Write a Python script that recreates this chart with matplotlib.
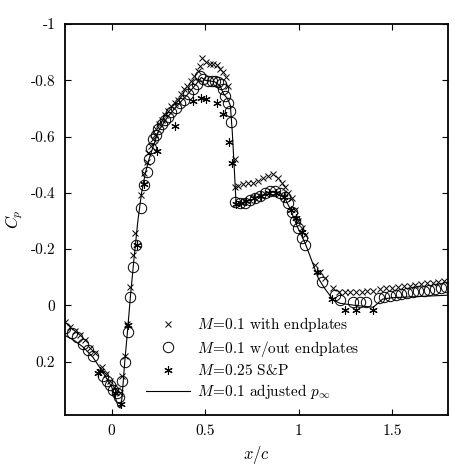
import matplotlib
matplotlib.use("Agg")
import matplotlib.pyplot as plt

plt.rcParams['font.family'] = 'serif'
plt.rcParams['font.serif'] = ['cmr10', 'DejaVu Serif']
plt.rcParams['mathtext.fontset'] = 'cm'
plt.rcParams['axes.unicode_minus'] = False
plt.rcParams['axes.formatter.use_mathtext'] = True

# M=0.1 with endplates (x marks)
cross_x = [-0.25, -0.223, -0.197, -0.17, -0.143, -0.116, -0.09, -0.052, -0.03, -0.01,
           0.015, 0.03, 0.045, 0.054, 0.07, 0.08, 0.098, 0.113, 0.125, 0.157,
           0.174, 0.188, 0.195, 0.21, 0.22, 0.23, 0.237, 0.254, 0.27, 0.286,
           0.303, 0.32, 0.34, 0.357, 0.37, 0.388, 0.405, 0.424, 0.44, 0.46,
           0.473, 0.484, 0.505, 0.527, 0.543, 0.563, 0.58, 0.597, 0.612, 0.623,
           0.66, 0.66, 0.677, 0.703, 0.73, 0.757, 0.784, 0.81, 0.838, 0.865,
           0.89, 0.91, 0.93, 0.945, 0.965, 0.98, 0.998, 1.02, 1.035, 1.09,
           1.115, 1.14, 1.187, 1.214, 1.246, 1.276, 1.309, 1.339, 1.369, 1.401,
           1.437, 1.469, 1.50, 1.53, 1.562, 1.594, 1.625, 1.655, 1.687, 1.719,
           1.749, 1.78]
cross_cp = [0.06, 0.078, 0.09, 0.107, 0.125, 0.15, 0.17, 0.22, 0.245, 0.27,
            0.29, 0.30, 0.31, 0.25, 0.18, 0.065, -0.066, -0.178, -0.257, -0.393,
            -0.47, -0.51, -0.54, -0.565, -0.59, -0.607, -0.625, -0.643, -0.66, -0.675,
            -0.69, -0.707, -0.72, -0.73, -0.75, -0.768, -0.779, -0.796, -0.815, -0.832,
            -0.85, -0.88, -0.864, -0.857, -0.857, -0.854, -0.84, -0.828, -0.81, -0.778,
            -0.52, -0.42, -0.425, -0.43, -0.436, -0.436, -0.443, -0.453, -0.46, -0.468,
            -0.453, -0.436, -0.42, -0.40, -0.38, -0.34, -0.30, -0.275, -0.25, -0.143,
            -0.118, -0.096, -0.06, -0.046, -0.047, -0.047, -0.048, -0.049, -0.05, -0.05,
            -0.058, -0.06, -0.063, -0.066, -0.068, -0.07, -0.073, -0.076, -0.078, -0.081,
            -0.084, -0.087]

# M=0.1 w/out endplates (open circles)
circ_x = [-0.25, -0.21, -0.186, -0.155, -0.126, -0.1, -0.046, -0.025, -0.01, 0.008,
          0.027, 0.04, 0.055, 0.07, 0.088, 0.098, 0.113, 0.13, 0.157, 0.174,
          0.188, 0.2, 0.21, 0.22, 0.237, 0.25, 0.27, 0.286, 0.303, 0.32,
          0.345, 0.366, 0.388, 0.41, 0.434, 0.455, 0.473, 0.49, 0.517, 0.536,
          0.554, 0.571, 0.586, 0.597, 0.608, 0.62, 0.632, 0.64, 0.66, 0.687,
          0.714, 0.74, 0.768, 0.795, 0.82, 0.848, 0.875, 0.9, 0.93, 0.945,
          0.965, 0.982, 0.998, 1.02, 1.035, 1.126, 1.197, 1.223, 1.29, 1.33,
          1.36, 1.43, 1.46, 1.49, 1.52, 1.55, 1.58, 1.61, 1.64, 1.67,
          1.70, 1.73, 1.76, 1.79]
circ_cp = [0.082, 0.1, 0.114, 0.136, 0.16, 0.18, 0.25, 0.27, 0.285, 0.30,
           0.31, 0.325, 0.27, 0.20, 0.096, -0.03, -0.137, -0.214, -0.346, -0.426,
           -0.475, -0.52, -0.56, -0.59, -0.607, -0.625, -0.643, -0.657, -0.671, -0.686,
           -0.703, -0.72, -0.73, -0.75, -0.768, -0.786, -0.815, -0.804, -0.796, -0.796,
           -0.796, -0.793, -0.785, -0.77, -0.745, -0.72, -0.69, -0.65, -0.368, -0.364,
           -0.364, -0.375, -0.38, -0.39, -0.40, -0.407, -0.407, -0.40, -0.386, -0.364,
           -0.332, -0.30, -0.275, -0.24, -0.214, -0.082, -0.036, -0.018, -0.011, -0.011,
           -0.011, -0.025, -0.029, -0.032, -0.036, -0.039, -0.043, -0.046, -0.05, -0.051,
           -0.054, -0.057, -0.061, -0.066]

# M=0.25 S&P (asterisks)
star_x = [-0.075, -0.06, 0.02, 0.05, 0.085, 0.135, 0.175, 0.245, 0.34, 0.437,
          0.478, 0.505, 0.563, 0.597, 0.627, 0.642, 0.665, 0.69, 0.72, 0.76,
          0.8, 0.84, 0.88, 0.92, 0.96, 0.985, 1.017, 1.1, 1.18, 1.25,
          1.31, 1.40]
star_cp = [0.24, 0.235, 0.31, 0.35, 0.07, -0.214, -0.43, -0.547, -0.637, -0.725,
           -0.736, -0.732, -0.718, -0.68, -0.582, -0.505, -0.36, -0.365, -0.37, -0.38,
           -0.39, -0.40, -0.40, -0.385, -0.34, -0.31, -0.262, -0.118, -0.024, 0.018,
           0.018, 0.015]

# M=0.1 adjusted p_inf (solid line)
line_x = [-0.25, -0.2, -0.15, -0.1, -0.05, 0.0, 0.02, 0.035, 0.045, 0.055,
          0.07, 0.085, 0.1, 0.12, 0.14, 0.16, 0.18, 0.2, 0.25, 0.3,
          0.35, 0.4, 0.45, 0.48, 0.5, 0.55, 0.58, 0.6, 0.62, 0.635,
          0.645, 0.655, 0.665, 0.7, 0.75, 0.8, 0.85, 0.88, 0.92, 0.95,
          1.0, 1.036, 1.07, 1.106, 1.14, 1.187, 1.223, 1.3, 1.4, 1.45,
          1.5, 1.6, 1.7, 1.8]
line_cp = [0.107, 0.125, 0.15, 0.185, 0.235, 0.29, 0.33, 0.36, 0.365, 0.33,
           0.2, 0.09, -0.03, -0.17, -0.3, -0.4, -0.47, -0.52, -0.62, -0.67,
           -0.71, -0.745, -0.785, -0.81, -0.80, -0.795, -0.78, -0.75, -0.735, -0.71,
           -0.62, -0.5, -0.37, -0.365, -0.375, -0.39, -0.405, -0.405, -0.39, -0.35,
           -0.27, -0.22, -0.16, -0.096, -0.06, -0.018, -0.007, 0.0, 0.007, -0.022,
           -0.027, -0.03, -0.033, -0.036]

xticks = [0, 0.5, 1, 1.5]
xticklabels = ['0', '0.5', '1', '1.5']
yticks = [-1, -0.8, -0.6, -0.4, -0.2, 0, 0.2]
yticklabels = ['-1', '-0.8', '-0.6', '-0.4', '-0.2', '0', '0.2']

fig = plt.figure(figsize=(4.56, 4.66), dpi=100)
ax = fig.add_axes([0.1425, 0.1094, 0.84, 0.8391])

ax.plot(cross_x, cross_cp, linestyle='none', marker='x', color='k',
        markersize=4, markeredgewidth=0.7, label=r'$M\!=\!0.1$ with endplates')
ax.plot(circ_x, circ_cp, linestyle='none', marker='o', color='k',
        markerfacecolor='none', markersize=7.5, markeredgewidth=0.7,
        label=r'$M\!=\!0.1$ w/out endplates')
ax.plot(star_x, star_cp, linestyle='none', marker=(6, 2, 0), color='k',
        markersize=6, markeredgewidth=0.8, label=r'$M\!=\!0.25$ S&P')
ax.plot(line_x, line_cp, '-', color='k', linewidth=0.8,
        label=r'$M\!=\!0.1$ adjusted $p_\infty$')

ax.set_xlim(-0.25, 1.8)
ax.set_ylim(0.39, -1)
ax.set_xticks(xticks)
ax.set_xticklabels(xticklabels)
ax.set_yticks(yticks)
ax.set_yticklabels(yticklabels)
ax.tick_params(direction='in', top=True, right=True, length=4, width=0.8,
               labelsize=11, pad=7)
for s in ax.spines.values():
    s.set_linewidth(1.3)

ax.set_xlabel(r'$x/c$', fontsize=12)
ax.set_ylabel(r'$C_p$', fontsize=12)

ax.legend(loc='lower left', bbox_to_anchor=(0.175, 0.0), frameon=False,
          fontsize=11, handlelength=2.9, handletextpad=0.45, labelspacing=0.28,
          borderpad=0.4)

fig.savefig('out.png', dpi=100)
